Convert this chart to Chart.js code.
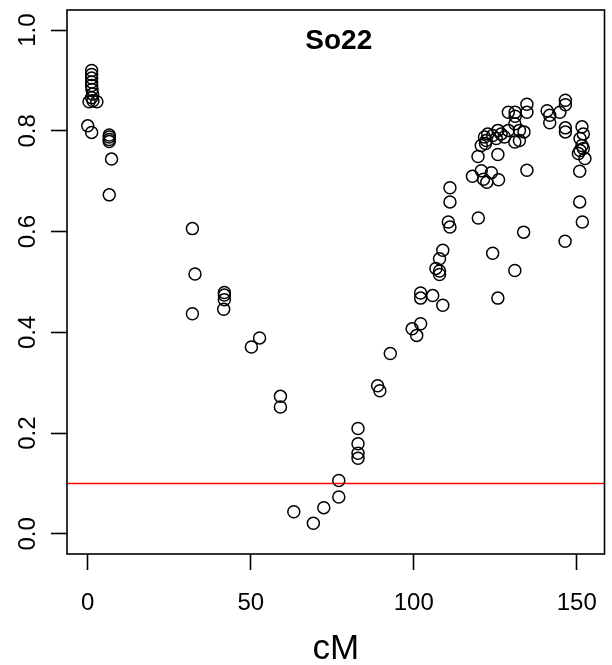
<!DOCTYPE html>
<html>
<head>
<meta charset="utf-8">
<script src="https://cdn.jsdelivr.net/npm/chart.js@4"></script>
<style>
  body { margin: 0; background: #fff; }
  canvas { display: block; }
</style>
</head>
<body>
<canvas id="scan" width="612" height="665"></canvas>
<script>
const chartTitle = "So22";
const xLabel = "cM";
const threshold = 0.1;
const xTicks = [0, 50, 100, 150];
const yTicks = [0, 0.2, 0.4, 0.6, 0.8, 1.0];

// marker positions (cM)
const positions = [
    1.2, 1.2, 1.2, 1.2, 1.2, 1.3, 1.5, 1.2, 0.4, 2.8, 1.6,
    0.0, 1.2,
    6.6, 6.6, 6.6, 6.6, 7.3, 6.6,
    32.1, 32.9, 32.1,
    41.9, 41.9, 41.9, 41.7,
    50.2, 52.7, 59.1, 59.1,
    63.2, 69.2, 72.4, 77.0, 77.0,
    82.9, 82.9, 82.9, 82.9,
    88.9, 89.6, 92.8,
    99.5, 100.9, 102.1,
    102.1, 102.1, 105.8, 108.9,
    106.8, 107.9, 107.9, 107.9, 108.9,
    111.1, 111.1, 110.6, 111.1,
    118.0, 119.8, 120.7, 121.4, 122.4, 123.8, 126.0,
    124.2, 125.8, 131.0, 133.7, 134.7,
    119.7, 125.8, 120.7,
    121.7, 122.7, 122.2, 124.2, 125.8, 126.8, 127.8, 125.3, 122.0,
    129.0, 131.1, 131.1, 134.7, 134.7,
    131.0, 131.0, 133.8, 132.4, 132.4, 129.0,
    140.9, 141.7, 141.7, 144.8, 146.5, 146.5, 146.5, 146.5,
    146.4, 150.9, 150.9, 151.7,
    151.6, 152.0, 151.0, 151.6, 151.0, 152.0, 152.5, 150.5
];

// values at each marker
const pValues = [
    0.920, 0.912, 0.905, 0.897, 0.890, 0.882, 0.873, 0.866, 0.858, 0.858, 0.860,
    0.810, 0.797,
    0.792, 0.788, 0.783, 0.779, 0.744, 0.673,
    0.606, 0.516, 0.437,
    0.479, 0.474, 0.465, 0.446,
    0.371, 0.389, 0.273, 0.252,
    0.044, 0.021, 0.052, 0.073, 0.106,
    0.209, 0.179, 0.160, 0.150,
    0.294, 0.284, 0.358,
    0.407, 0.394, 0.417,
    0.478, 0.468, 0.473, 0.454,
    0.527, 0.522, 0.515, 0.546, 0.563,
    0.687, 0.659, 0.619, 0.609,
    0.710, 0.627, 0.721, 0.704, 0.698, 0.717, 0.703,
    0.557, 0.468, 0.523, 0.599, 0.722,
    0.749, 0.753, 0.771,
    0.788, 0.794, 0.781, 0.791, 0.801, 0.794, 0.788, 0.785, 0.775,
    0.837, 0.837, 0.829, 0.853, 0.837,
    0.814, 0.778, 0.798, 0.801, 0.781, 0.801,
    0.840, 0.831, 0.816, 0.837, 0.861, 0.852, 0.806, 0.798,
    0.581, 0.720, 0.659, 0.619,
    0.808, 0.794, 0.785, 0.771, 0.761, 0.765, 0.745, 0.755
];

var points = []
positions.forEach((cm, i) => {
    points.push({ x: cm, y: pValues[i] })
});

const FONT = "'Liberation Sans', Arial, sans-serif";

// box, threshold line, rotated y labels, title, axis label
const extras = {
    id: 'extras',
    beforeDatasetsDraw(chart) {
        const ctx = chart.ctx;
        const a = chart.chartArea;
        const y = chart.scales.y.getPixelForValue(threshold);
        ctx.save();
        ctx.strokeStyle = '#ff0000';
        ctx.lineWidth = 1.6;
        ctx.beginPath();
        ctx.moveTo(a.left, y);
        ctx.lineTo(a.right, y);
        ctx.stroke();
        ctx.restore();
    },
    afterDraw(chart) {
        const ctx = chart.ctx;
        const a = chart.chartArea;
        ctx.save();
        ctx.strokeStyle = '#000';
        ctx.lineWidth = 1.6;
        ctx.strokeRect(a.left, a.top, a.right - a.left, a.bottom - a.top);

        ctx.fillStyle = '#000';
        ctx.font = "24px " + FONT;
        ctx.textAlign = 'center';
        ctx.textBaseline = 'alphabetic';
        yTicks.forEach(v => {
            const py = chart.scales.y.getPixelForValue(v);
            ctx.save();
            ctx.translate(a.left - 32, py);
            ctx.rotate(-Math.PI / 2);
            ctx.fillText(v.toFixed(1), 0, 0);
            ctx.restore();
        });
        xTicks.forEach(v => {
            const px = chart.scales.x.getPixelForValue(v);
            ctx.fillText(String(v), px, a.bottom + 56);
        });

        ctx.font = "35px " + FONT;
        ctx.fillText(xLabel, (a.left + a.right) / 2, 659);

        ctx.font = "bold 28px " + FONT;
        ctx.fillText(chartTitle, (a.left + a.right) / 2 + 3, a.top + 39);
        ctx.restore();
    }
};

const data = {
    datasets: [{
        label: chartTitle,
        data: points,
        showLine: false,
        pointStyle: 'circle',
        pointRadius: 6,
        pointBorderWidth: 1.5,
        pointBorderColor: '#000',
        pointBackgroundColor: 'rgba(0,0,0,0)'
    }]
};

const config = {
    type: 'scatter',
    data: data,
    plugins: [extras],
    options: {
        responsive: false,
        animation: false,
        devicePixelRatio: 1,
        layout: { padding: { top: 10, right: 1, left: 0, bottom: 0 } },
        plugins: {
            legend: { display: false },
            tooltip: { enabled: false }
        },
        scales: {
            x: {
                type: 'linear',
                min: -6.36,
                max: 158.5,
                afterBuildTicks: s => { s.ticks = xTicks.map(v => ({ value: v })) },
                afterFit: s => { s.height = 111 },
                ticks: { display: false },
                border: { display: false },
                grid: {
                    drawOnChartArea: false,
                    drawTicks: true,
                    tickLength: 16,
                    tickWidth: 1.6,
                    color: '#000'
                }
            },
            y: {
                type: 'linear',
                min: -0.04,
                max: 1.04,
                afterBuildTicks: s => { s.ticks = yTicks.map(v => ({ value: v })) },
                afterFit: s => { s.width = 67 },
                ticks: { display: false },
                border: { display: false },
                grid: {
                    drawOnChartArea: false,
                    drawTicks: true,
                    tickLength: 16,
                    tickWidth: 1.6,
                    color: '#000'
                }
            }
        }
    }
};

const myChart = new Chart(document.getElementById('scan'), config);
</script>
</body>
</html>
